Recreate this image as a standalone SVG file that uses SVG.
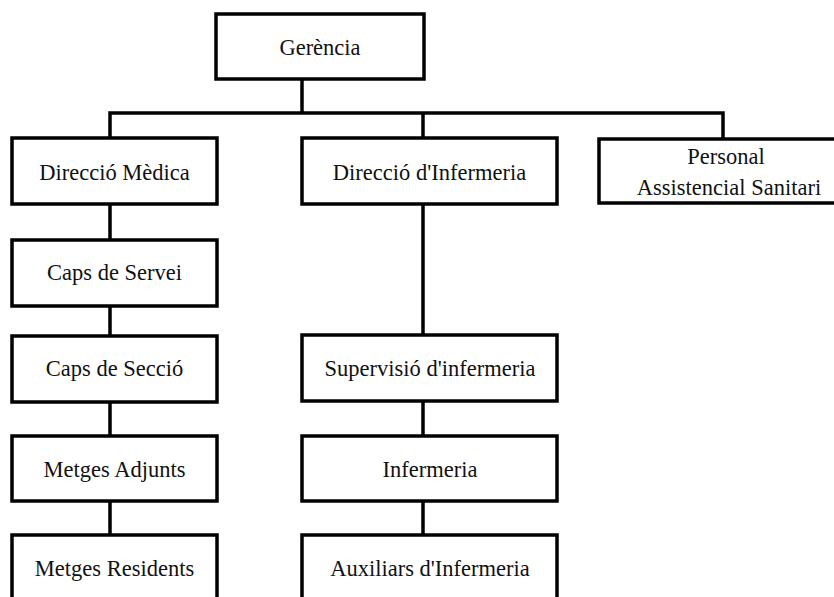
<svg xmlns="http://www.w3.org/2000/svg" width="834" height="597" viewBox="0 0 834 597">
<style>
.box{fill:#fff;stroke:#000;stroke-width:3.5}
.lbl{font-family:"Liberation Serif","Times New Roman",serif;font-size:22.5px;fill:#111;text-anchor:middle}
.conn{fill:none;stroke:#000;stroke-width:3.5;stroke-linecap:square}
</style>
<rect width="834" height="597" fill="#fff"/>
<g id="connectors">
<path class="conn" d="M302 79 V113 M110 113 H723 M110 113 V138 M423 113 V138 M723 113 V139"/>
<path class="conn" d="M110 204 V240 M110 306 V336 M110 402 V436 M110 501 V535"/>
<path class="conn" d="M423 204 V335 M423 401 V436 M423 501 V535"/>
</g>
<g id="gerencia"><rect class="box" x="216" y="14" width="208" height="65"/><text class="lbl" x="320" y="55">Gerència</text></g>
<g id="direccio-medica"><rect class="box" x="12" y="138" width="205" height="66"/><text class="lbl" x="114.5" y="180">Direcció Mèdica</text></g>
<g id="direccio-infermeria"><rect class="box" x="302" y="138" width="255" height="66"/><text class="lbl" x="429.5" y="180">Direcció d'Infermeria</text></g>
<g id="personal"><rect class="box" x="599" y="139" width="240" height="64"/><text class="lbl" x="726" y="164">Personal</text><text class="lbl" x="729" y="195">Assistencial Sanitari</text></g>
<g id="caps-servei"><rect class="box" x="12" y="240" width="205" height="66"/><text class="lbl" x="114.5" y="280">Caps de Servei</text></g>
<g id="caps-seccio"><rect class="box" x="12" y="336" width="205" height="66"/><text class="lbl" x="114.5" y="376">Caps de Secció</text></g>
<g id="supervisio"><rect class="box" x="302" y="335" width="255" height="66"/><text class="lbl" x="430" y="376">Supervisió d'infermeria</text></g>
<g id="metges-adjunts"><rect class="box" x="12" y="436" width="205" height="65"/><text class="lbl" x="114.5" y="477">Metges Adjunts</text></g>
<g id="infermeria"><rect class="box" x="302" y="436" width="255" height="65"/><text class="lbl" x="430" y="477">Infermeria</text></g>
<g id="metges-residents"><rect class="box" x="12" y="535" width="205" height="70"/><text class="lbl" x="114.5" y="576">Metges Residents</text></g>
<g id="auxiliars"><rect class="box" x="302" y="535" width="255" height="70"/><text class="lbl" x="430" y="576">Auxiliars d'Infermeria</text></g>
</svg>
